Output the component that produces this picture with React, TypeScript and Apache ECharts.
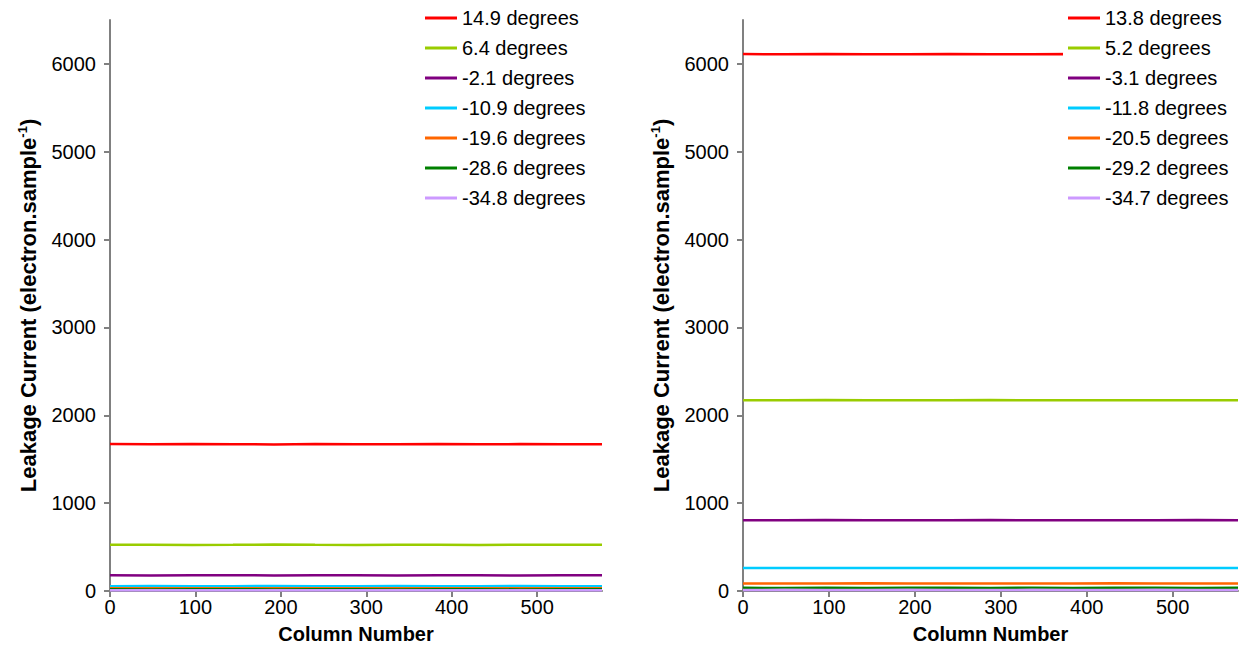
import React, { useEffect, useRef } from "react";
import * as echarts from "echarts";

const columns = [0, 48, 96, 144, 192, 240, 288, 336, 384, 432, 480, 528, 576];

// Left panel
const leftNames = ["14.9 degrees", "6.4 degrees", "-2.1 degrees", "-10.9 degrees", "-19.6 degrees", "-28.6 degrees", "-34.8 degrees"];
const left149 = [1672, 1670, 1673, 1671, 1669, 1672, 1670, 1671, 1673, 1670, 1672, 1671, 1670];
const left64 = [526, 527, 525, 526, 528, 526, 525, 527, 526, 525, 527, 526, 526];
const leftM21 = [178, 177, 178, 179, 177, 178, 178, 177, 179, 178, 177, 178, 178];
const leftM109 = [55, 56, 54, 55, 56, 55, 54, 56, 55, 55, 56, 54, 55];
const leftM196 = [31, 30, 31, 30, 32, 31, 30, 31, 30, 31, 31, 30, 31];
const leftM286 = [19, 18, 19, 20, 18, 19, 19, 18, 19, 20, 18, 19, 19];
const leftM348 = [8, 9, 8, 8, 9, 8, 8, 9, 8, 8, 9, 8, 8];

// Right panel
const rightNames = ["13.8 degrees", "5.2 degrees", "-3.1 degrees", "-11.8 degrees", "-20.5 degrees", "-29.2 degrees", "-34.7 degrees"];
const right138 = [6112, 6110, 6113, 6111, 6109, 6112, 6110, 6111, 6113, 6110, 6112, 6111, 6110];
const right52 = [2172, 2171, 2173, 2172, 2170, 2172, 2173, 2171, 2172, 2170, 2172, 2171, 2172];
const rightM31 = [806, 805, 807, 806, 805, 806, 807, 805, 806, 806, 805, 807, 806];
const rightM118 = [262, 263, 261, 262, 263, 262, 261, 263, 262, 262, 263, 261, 262];
const rightM205 = [86, 85, 86, 87, 85, 86, 86, 85, 86, 87, 85, 86, 86];
const rightM292 = [36, 35, 36, 35, 37, 36, 35, 36, 35, 36, 36, 35, 36];
const rightM347 = [12, 13, 12, 12, 13, 12, 12, 13, 12, 12, 13, 12, 12];

const colors = ["#FF0000", "#99CC00", "#800080", "#00CCFF", "#FF6600", "#008000", "#CC99FF"];

const xTicks = [0, 100, 200, 300, 400, 500];
const yTicks = [0, 1000, 2000, 3000, 4000, 5000, 6000];

const FONT = "'Liberation Sans', Arial, sans-serif";

export default function App() {
  const ref = useRef<HTMLDivElement>(null);
  useEffect(() => {
    if (!ref.current) return;
    const chart = echarts.init(ref.current, undefined, { renderer: "svg" });
    const leftData = [left149, left64, leftM21, leftM109, leftM196, leftM286, leftM348];
    const rightData = [right138, right52, rightM31, rightM118, rightM205, rightM292, rightM347];

    const mkX = (gridIndex: number) => ({
      type: "value",
      gridIndex,
      min: 0,
      max: 576,
      name: "Column Number",
      nameLocation: "middle",
      nameGap: 33,
      nameTextStyle: { fontFamily: FONT, fontSize: 20, fontWeight: "bold", color: "#000" },
      splitLine: { show: false },
      axisLine: { show: true, lineStyle: { color: "#808080", width: 2 } },
      axisTick: { show: true, inside: false, length: 6, customValues: xTicks, lineStyle: { color: "#808080", width: 2 } },
      axisLabel: { customValues: xTicks, formatter: (v: number) => String(v), fontFamily: FONT, fontSize: 20, color: "#000", margin: 6 },
    });
    const mkY = (gridIndex: number) => ({
      type: "value",
      gridIndex,
      min: 0,
      max: 6500,
      name: "{b|Leakage Current (electron.sample}{s|-1}{b|)}",
      nameLocation: "middle",
      nameGap: 70,
      nameTextStyle: {
        rich: {
          b: { fontFamily: FONT, fontSize: 22, fontWeight: "bold", color: "#000", lineHeight: 24 },
          s: { fontFamily: FONT, fontSize: 13, fontWeight: "bold", color: "#000", verticalAlign: "top", lineHeight: 24 },
        },
      },
      splitLine: { show: false },
      axisLine: { show: true, lineStyle: { color: "#808080", width: 2 } },
      axisTick: { show: true, inside: false, length: 6, customValues: yTicks, lineStyle: { color: "#808080", width: 2 } },
      axisLabel: { customValues: yTicks, formatter: (v: number) => String(v), fontFamily: FONT, fontSize: 20, color: "#000", margin: 14 },
    });

    const series: any[] = [];
    leftNames.forEach((n, i) => {
      series.push({
        type: "line",
        name: n,
        xAxisIndex: 0,
        yAxisIndex: 0,
        symbol: "none",
        data: columns.map((c, j) => [c, leftData[i][j]]),
        lineStyle: { color: colors[i], width: 2.5 },
        itemStyle: { color: colors[i] },
      });
    });
    rightNames.forEach((n, i) => {
      series.push({
        type: "line",
        name: n,
        xAxisIndex: 1,
        yAxisIndex: 1,
        symbol: "none",
        data: columns.map((c, j) => [c, rightData[i][j]]),
        lineStyle: { color: colors[i], width: 2.5 },
        itemStyle: { color: colors[i] },
      });
    });

    const mkLegend = (names: string[], left: number) => ({
      data: names.map((n) => ({ name: n, icon: "rect" })),
      orient: "vertical",
      left,
      top: 3,
      padding: [5, 24, 5, 5],
      itemWidth: 32,
      itemHeight: 3,
      itemGap: 10,
      backgroundColor: "#fff",
      selectedMode: false,
      textStyle: { fontFamily: FONT, fontSize: 20, color: "#000", lineHeight: 20 },
    });

    chart.setOption({
      animation: false,
      backgroundColor: "#fff",
      grid: [
        { left: 110, right: 645, top: 20, bottom: 79, containLabel: false },
        { left: 743, right: 9, top: 20, bottom: 79, containLabel: false },
      ],
      xAxis: [mkX(0), mkX(1)],
      yAxis: [mkY(0), mkY(1)],
      legend: [mkLegend(leftNames, 420), mkLegend(rightNames, 1063)],
      series,
    });
    return () => chart.dispose();
  }, []);
  return <div ref={ref} style={{ width: 1247, height: 670, position: "absolute", left: 0, top: 0 }} />;
}
